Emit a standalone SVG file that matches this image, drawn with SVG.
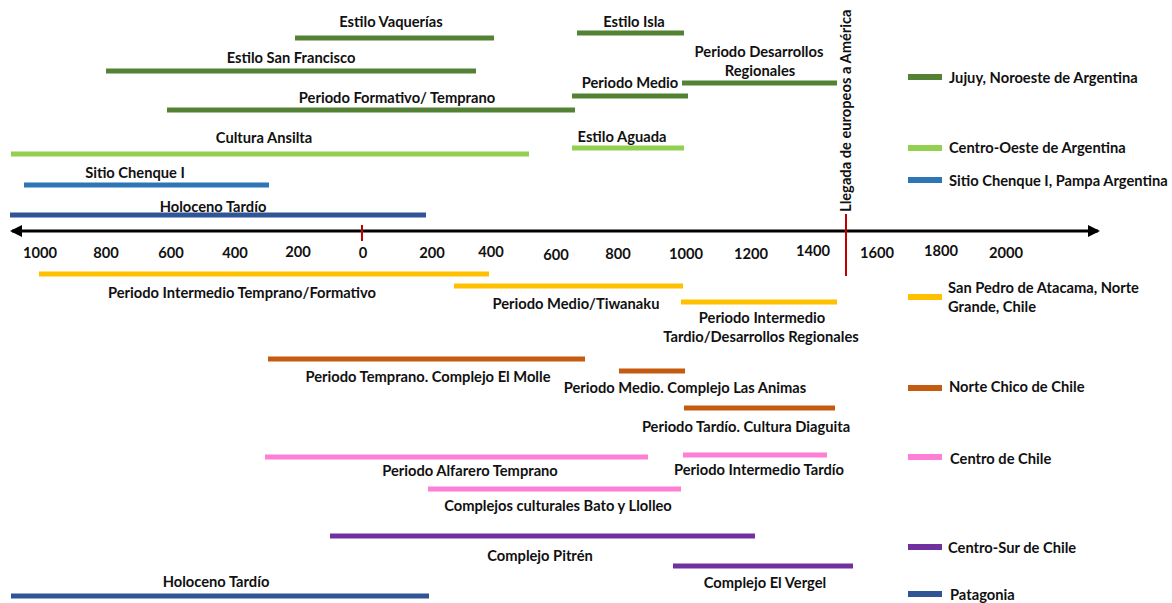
<svg xmlns="http://www.w3.org/2000/svg" width="1172" height="603" viewBox="0 0 1172 603">
  <defs>
    <style>
      text { font-family: Lato, "Liberation Sans", sans-serif; font-weight: bold; font-size: 14.7px; fill: #111; }
      .c { text-anchor: middle; }
      .bar { stroke-width: 5; fill: none; }
      .sw { stroke-width: 6; fill: none; }
      .jujuy { stroke: #548235; }
      .cuyo { stroke: #92D050; }
      .pampa { stroke: #2E75B6; }
      .pata { stroke: #2F5597; }
      .atac { stroke: #FFC000; }
      .nchico { stroke: #C55A11; }
      .cchile { stroke: #FF7FD6; }
      .csur { stroke: #7030A0; }
      .red { stroke: #C00000; stroke-width: 2; }
    </style>
    <marker id="ah" viewBox="0 0 6 6" refX="5" refY="3" markerWidth="4" markerHeight="4" orient="auto-start-reverse">
      <path d="M0,0 L6,3 L0,6 z" fill="#000"/>
    </marker>
  </defs>
  <rect width="1172" height="603" fill="#fff"/>

  <!-- time axis -->
  <g id="axis">
    <line x1="12" y1="231" x2="1098" y2="231" stroke="#000" stroke-width="3" marker-start="url(#ah)" marker-end="url(#ah)"/>
    <line class="red" x1="362" y1="225" x2="362" y2="241"/>
    <g id="ticks">
      <text class="c" x="40" y="258">1000</text>
      <text class="c" x="106" y="258">800</text>
      <text class="c" x="171" y="258">600</text>
      <text class="c" x="235" y="258">400</text>
      <text class="c" x="298" y="257">200</text>
      <text class="c" x="363" y="258">0</text>
      <text class="c" x="432" y="258">200</text>
      <text class="c" x="491" y="257">400</text>
      <text class="c" x="556" y="260">600</text>
      <text class="c" x="618" y="259">800</text>
      <text class="c" x="686" y="259">1000</text>
      <text class="c" x="751" y="259">1200</text>
      <text class="c" x="813" y="256">1400</text>
      <text class="c" x="877" y="258">1600</text>
      <text class="c" x="941" y="256">1800</text>
      <text class="c" x="1006" y="258">2000</text>
    </g>
  </g>

  <!-- contact event -->
  <g id="llegada">
    <line class="red" x1="846" y1="214" x2="846" y2="276"/>
    <text transform="translate(851 212) rotate(-90)">Llegada de europeos a América</text>
  </g>

  <!-- Jujuy, Noroeste de Argentina -->
  <g id="estilo-vaquerias">
    <line class="bar jujuy" x1="295" y1="38" x2="494" y2="38"/>
    <text class="c" x="391" y="27">Estilo Vaquerías</text>
  </g>
  <g id="estilo-isla">
    <line class="bar jujuy" x1="577" y1="33" x2="684" y2="33"/>
    <text class="c" x="634" y="27">Estilo Isla</text>
  </g>
  <g id="estilo-san-francisco">
    <line class="bar jujuy" x1="106" y1="71" x2="476" y2="71"/>
    <text class="c" x="291" y="63">Estilo San Francisco</text>
  </g>
  <g id="desarrollos-regionales">
    <line class="bar jujuy" x1="682" y1="83" x2="837" y2="83"/>
    <text class="c" x="759" y="57">Periodo Desarrollos</text>
    <text class="c" x="760" y="76">Regionales</text>
  </g>
  <g id="periodo-medio">
    <line class="bar jujuy" x1="572" y1="96" x2="688" y2="96"/>
    <text class="c" x="630" y="88">Periodo Medio</text>
  </g>
  <g id="formativo-temprano">
    <line class="bar jujuy" x1="167" y1="110" x2="575" y2="110"/>
    <text class="c" x="397" y="103">Periodo Formativo/ Temprano</text>
  </g>

  <!-- Centro-Oeste de Argentina -->
  <g id="estilo-aguada">
    <line class="bar cuyo" x1="572" y1="148" x2="684" y2="148"/>
    <text class="c" x="622" y="142">Estilo Aguada</text>
  </g>
  <g id="cultura-ansilta">
    <line class="bar cuyo" x1="11" y1="154" x2="529" y2="154"/>
    <text class="c" x="264" y="143">Cultura Ansilta</text>
  </g>

  <!-- Pampa -->
  <g id="sitio-chenque">
    <line class="bar pampa" x1="24" y1="185" x2="269" y2="185"/>
    <text class="c" x="135" y="178">Sitio Chenque I</text>
  </g>
  <g id="holoceno-tardio-pampa">
    <line class="bar pata" x1="10" y1="215" x2="426" y2="215"/>
    <text class="c" x="213" y="212">Holoceno Tardío</text>
  </g>

  <!-- San Pedro de Atacama -->
  <g id="intermedio-temprano">
    <line class="bar atac" x1="39" y1="274" x2="489" y2="274"/>
    <text class="c" x="242" y="298">Periodo Intermedio Temprano/Formativo</text>
  </g>
  <g id="medio-tiwanaku">
    <line class="bar atac" x1="454" y1="286" x2="683" y2="286"/>
    <text class="c" x="576" y="309">Periodo Medio/Tiwanaku</text>
  </g>
  <g id="intermedio-tardio-atacama">
    <line class="bar atac" x1="681" y1="302" x2="837" y2="302"/>
    <text class="c" x="762" y="323">Periodo Intermedio</text>
    <text class="c" x="761" y="342">Tardio/Desarrollos Regionales</text>
  </g>

  <!-- Norte Chico -->
  <g id="el-molle">
    <line class="bar nchico" x1="268" y1="359" x2="585" y2="359"/>
    <text class="c" x="428" y="382">Periodo Temprano. Complejo El Molle</text>
  </g>
  <g id="las-animas">
    <line class="bar nchico" x1="619" y1="371" x2="685" y2="371"/>
    <text class="c" x="685" y="393">Periodo Medio. Complejo Las Animas</text>
  </g>
  <g id="diaguita">
    <line class="bar nchico" x1="684" y1="408" x2="835" y2="408"/>
    <text class="c" x="746" y="432">Periodo Tardío. Cultura Diaguita</text>
  </g>

  <!-- Centro de Chile -->
  <g id="alfarero-temprano">
    <line class="bar cchile" x1="265" y1="457" x2="648" y2="457"/>
    <text class="c" x="470" y="476">Periodo Alfarero Temprano</text>
  </g>
  <g id="intermedio-tardio-centro">
    <line class="bar cchile" x1="683" y1="455" x2="827" y2="455"/>
    <text class="c" x="759" y="475">Periodo Intermedio Tardío</text>
  </g>
  <g id="bato-llolleo">
    <line class="bar cchile" x1="428" y1="489" x2="681" y2="489"/>
    <text class="c" x="558" y="511">Complejos culturales Bato y Llolleo</text>
  </g>

  <!-- Centro-Sur de Chile -->
  <g id="pitren">
    <line class="bar csur" x1="330" y1="536" x2="755" y2="536"/>
    <text class="c" x="540" y="561">Complejo Pitrén</text>
  </g>
  <g id="el-vergel">
    <line class="bar csur" x1="673" y1="566" x2="853" y2="566"/>
    <text class="c" x="765" y="588">Complejo El Vergel</text>
  </g>

  <!-- Patagonia -->
  <g id="holoceno-tardio-patagonia">
    <line class="bar pata" x1="11" y1="596" x2="429" y2="596"/>
    <text class="c" x="216" y="587">Holoceno Tardío</text>
  </g>

  <!-- legend -->
  <g id="legend">
    <line class="sw jujuy" x1="908" y1="77" x2="942" y2="77"/>
    <text x="949" y="83">Jujuy, Noroeste de Argentina</text>
    <line class="sw cuyo" x1="908" y1="148" x2="942" y2="148"/>
    <text x="949" y="153">Centro-Oeste de Argentina</text>
    <line class="sw pampa" x1="908" y1="180" x2="942" y2="180"/>
    <text x="949" y="186">Sitio Chenque I, Pampa Argentina</text>
    <line class="sw atac" x1="908" y1="297" x2="942" y2="297"/>
    <text x="948" y="293">San Pedro de Atacama, Norte</text>
    <text x="948" y="312">Grande, Chile</text>
    <line class="sw nchico" x1="908" y1="388" x2="942" y2="388"/>
    <text x="949" y="392">Norte Chico de Chile</text>
    <line class="sw cchile" x1="908" y1="457" x2="942" y2="457"/>
    <text x="950" y="464">Centro de Chile</text>
    <line class="sw csur" x1="908" y1="547" x2="942" y2="547"/>
    <text x="948" y="553">Centro-Sur de Chile</text>
    <line class="sw pata" x1="908" y1="594" x2="942" y2="594"/>
    <text x="950" y="600">Patagonia</text>
  </g>
</svg>
